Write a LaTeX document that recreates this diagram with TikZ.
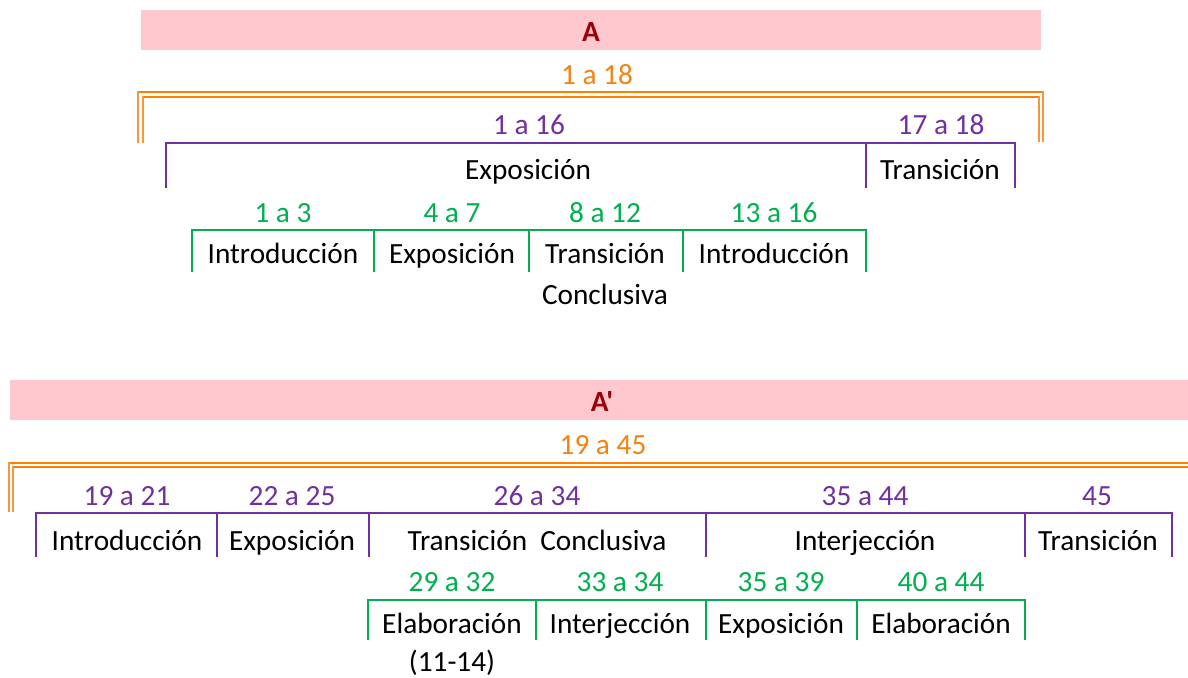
\documentclass[tikz,border=0pt]{standalone}
\usepackage{fontspec}
\setmainfont{Carlito}
\definecolor{pinkbar}{HTML}{FFC7CE}
\definecolor{darkred}{HTML}{9C0006}
\definecolor{orng}{HTML}{F58210}
\definecolor{orngline}{HTML}{FF7F00}
\definecolor{orngv}{HTML}{F7963F}
\definecolor{purp}{HTML}{7030A0}
\definecolor{grn}{HTML}{00B050}
\begin{document}
\begin{tikzpicture}[x=1pt,y=-1pt,
  txt/.style={inner sep=0pt,text height=22pt,text depth=3pt,font=\fontsize{29.3}{35}\selectfont,text=black},
  olab/.style={txt,text=orng},
  plab/.style={txt,text=purp},
  glab/.style={txt,text=grn},
  title/.style={txt,text=darkred,font=\fontsize{29.3}{35}\selectfont\bfseries},
  bar/.style={fill=pinkbar,draw=none},
  ob/.style={draw=orngline,line width=2pt},
  obv/.style={draw=orngv,line width=2.4pt},
  pb/.style={draw=purp,line width=2pt},
  gb/.style={draw=grn,line width=2pt}]
\useasboundingbox (0,0) rectangle (1188,677);

% ---------- Section A ----------
\fill[bar] (141,10) rectangle (1041,50);
\node[title] (tA) at (591,32) {A};
\node[olab] (oA) at (597,75) {1 a 18};
% orange double bracket
\draw[ob] (138,92) -- (1043,92);
\draw[ob] (143,97) -- (1039,97);
\draw[obv] (138,91) -- (138,143);
\draw[obv] (143,96) -- (143,143);
\draw[obv] (1043,91) -- (1043,142);
\draw[obv] (1039,96) -- (1039,142);
% purple brackets
\node[plab] (p1) at (529,125) {1 a 16};
\node[plab] (p2) at (941,125) {17 a 18};
\draw[pb] (166,188) -- (166,143) -- (1015,143) -- (1015,188);
\draw[pb] (866,143) -- (866,188);
\node[txt] (t1) at (528,170) {Exposición};
\node[txt] (t2) at (940,170) {Transición};
% green brackets
\node[glab] (g1) at (283,213) {1 a 3};
\node[glab] (g2) at (452,213) {4 a 7};
\node[glab] (g3) at (605,213) {8 a 12};
\node[glab] (g4) at (774,213) {13 a 16};
\draw[gb] (192,272) -- (192,230) -- (866,230) -- (866,272);
\draw[gb] (374,230) -- (374,272);
\draw[gb] (529,230) -- (529,272);
\draw[gb] (683,230) -- (683,272);
\node[txt] (s1) at (283,254) {Introducción};
\node[txt] (s2) at (452,254) {Exposición};
\node[txt] (s3) at (605,254) {Transición};
\node[txt] (s4) at (774,254) {Introducción};
\node[txt] (s3b) at (605,295) {Conclusiva};

% ---------- Section A' ----------
\fill[bar] (10,380) rectangle (1188,420);
\node[title] (tB) at (602,402) {\addfontfeature{Ligatures=TeXOff}A'};
\node[olab] (oB) at (603,445) {19 a 45};
\draw[ob] (9,463) -- (1188,463);
\draw[ob] (13,467) -- (1188,467);
\draw[obv] (9,462) -- (9,512);
\draw[obv] (13,466) -- (13,512);
% purple brackets
\node[plab] (q1) at (127,496) {19 a 21};
\node[plab] (q2) at (292,496) {22 a 25};
\node[plab] (q3) at (537,496) {26 a 34};
\node[plab] (q4) at (865,496) {35 a 44};
\node[plab] (q5) at (1097,496) {45};
\draw[pb] (36,557) -- (36,513) -- (1172,513) -- (1172,557);
\draw[pb] (217,513) -- (217,557);
\draw[pb] (369,513) -- (369,557);
\draw[pb] (706,513) -- (706,557);
\draw[pb] (1025,513) -- (1025,557);
\node[txt] (u1) at (127,541) {Introducción};
\node[txt] (u2) at (292,541) {Exposición};
\node[txt] (u3) at (537,541) {Transición\ \ Conclusiva};
\node[txt] (u4) at (865,541) {Interjección};
\node[txt] (u5) at (1098,541) {Transición};
% green brackets
\node[glab] (h1) at (452,582) {29 a 32};
\node[glab] (h2) at (620,582) {33 a 34};
\node[glab] (h3) at (781,582) {35 a 39};
\node[glab] (h4) at (941,582) {40 a 44};
\draw[gb] (368,640) -- (368,600) -- (1025,600) -- (1025,640);
\draw[gb] (536,600) -- (536,640);
\draw[gb] (706,600) -- (706,640);
\draw[gb] (857,600) -- (857,640);
\node[txt] (v1) at (452,624) {Elaboración};
\node[txt] (v2) at (620,624) {Interjección};
\node[txt] (v3) at (781,624) {Exposición};
\node[txt] (v4) at (941,624) {Elaboración};
\node[txt] (v1b) at (452,662) {(11-14)};
\end{tikzpicture}
\end{document}
